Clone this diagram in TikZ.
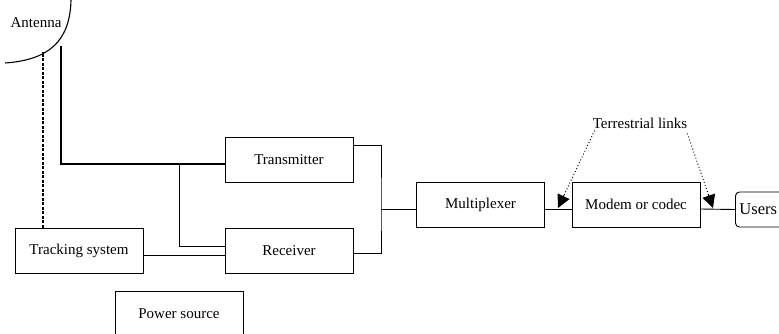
\documentclass[tikz,border=0pt]{standalone}
\usepackage{fontspec}
\setmainfont{Liberation Serif}
\usetikzlibrary{arrows.meta,calc}
\begin{document}
\begin{tikzpicture}[x=1pt,y=-1pt,
  txt/.style={font=\fontsize{15}{17}\selectfont},
  box/.style={draw,line width=0.9pt,minimum width=128pt,minimum height=45pt,inner sep=0pt,txt},
  wire/.style={line width=0.9pt},
  feedline/.style={line width=1.3pt},
  lbl/.style={inner sep=0pt,txt},
  dots/.style={line width=0.9pt,dash pattern=on 1pt off 2.2pt,shorten >=10pt},
  tiponly/.style={line width=1pt,solid,-{Triangle[length=13pt,width=13pt]}}]
\clip (0,0) rectangle (779,333);
\fill[white] (0,0) rectangle (779,333);

% antenna
\draw[line width=1.1pt] (5,63) .. controls (48,60) and (70,42) .. (71,0);
\node[lbl] (ant) at (36,23) {Antenna};
\coordinate (dish) at (43,52);
\coordinate (feed) at (61,46);

% boxes
\node[box] (tx) at (289,159.5) {Transmitter};
\node[box] (rx) at (289,250.5) {Receiver};
\node[box] (track) at (79,250.5) {Tracking system};
\node[box] (power) at (179,313.5) {Power source};
\node[box] (mux) at (480.5,204.5) {Multiplexer};
\node[box] (modem) at (636,204.5) {Modem or codec};
\node[draw,line width=0.9pt,rounded corners=4pt,anchor=west,minimum height=35pt,
      inner xsep=4pt,inner ysep=0pt,text width=55pt,align=left,font=\fontsize{16.5}{18}\selectfont] (users) at (735,209.5) {Users};

\node[lbl] (tl) at (640,123) {Terrestrial links};

% connectors
\coordinate (br) at (179,164);
\coordinate (jn) at (381,209);
\coordinate (a1) at (558,208);
\coordinate (a2) at (713,208);
\coordinate (s1) at ([xshift=2pt,yshift=-2pt]tl.south west);
\coordinate (s2) at ([yshift=-5pt]tl.south east);

\draw[feedline] (feed) |- ([yshift=-4.5pt]tx.west);
\draw[wire] (br) |- ([yshift=4.5pt]rx.west);
\draw[wire] ([yshift=-4.5pt]track.east) -- ([yshift=-4.5pt]rx.west);
\draw[wire, dash pattern=on 3pt off 1.5pt, line width=1.1pt] (track.north -| dish) -- (dish);
\draw[wire] ([yshift=14.5pt]tx.east) -| (jn) |- ([yshift=-2.5pt]rx.east);
\draw[wire] (jn) -- ([yshift=-4.5pt]mux.west);
\draw[wire] ([yshift=-4.5pt]mux.east) -- ([yshift=-4.5pt]modem.west);
\draw[wire] ([yshift=-4.5pt]modem.east) -- (users.west);

\draw[dots] (s1) -- (a1);
\draw[tiponly] ($(a1)!14pt!(s1)$) -- (a1);
\draw[dots] (s2) -- (a2);
\draw[tiponly] ($(a2)!14pt!(s2)$) -- (a2);
\end{tikzpicture}
\end{document}
